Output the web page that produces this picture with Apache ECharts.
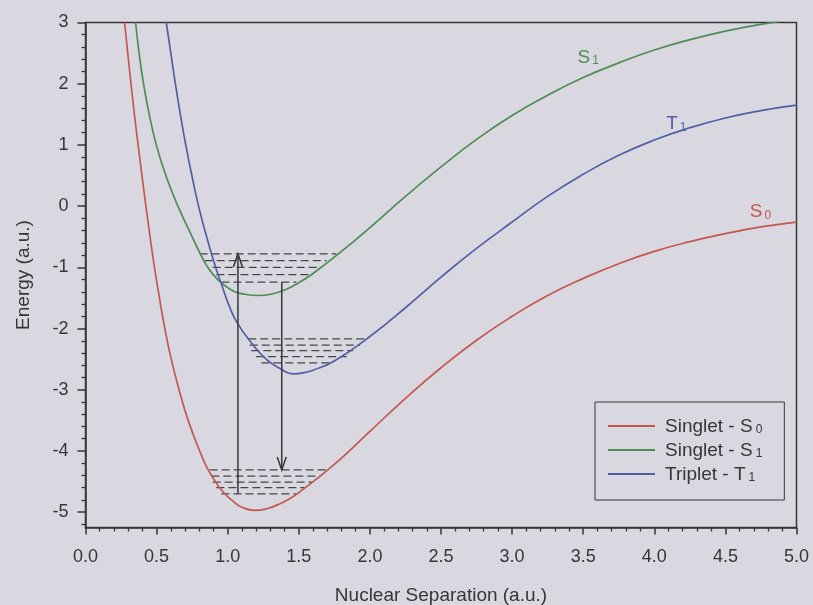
<!DOCTYPE html>
<html>
<head>
<meta charset="utf-8">
<script src="https://cdn.jsdelivr.net/npm/echarts@6/dist/echarts.min.js"></script>
<style>
  html, body { margin: 0; padding: 0; background: #d9d8e0; }
  #chart { width: 813px; height: 605px; }
</style>
</head>
<body>
<div id="chart"></div>
<script>
// Potential energy curves: [nuclear separation, energy] in atomic units
const groundS0 = [
  [0.275, 3.0], [0.297, 2.5], [0.32, 2.0], [0.344, 1.5], [0.37, 1.0],
  [0.397, 0.5], [0.425, 0.0], [0.454, -0.5], [0.485, -1.0], [0.52, -1.5],
  [0.558, -2.0], [0.603, -2.5], [0.658, -3.0], [0.722, -3.5], [0.803, -4.0],
  [0.85, -4.25], [0.897, -4.44], [0.96, -4.65], [1.037, -4.82], [1.1, -4.92],
  [1.19, -4.97], [1.28, -4.94], [1.35, -4.88], [1.42, -4.80], [1.5, -4.68],
  [1.75, -4.22], [2.0, -3.68], [2.25, -3.14], [2.5, -2.64], [2.75, -2.19],
  [3.0, -1.80], [3.25, -1.46], [3.5, -1.18], [3.75, -0.94], [4.0, -0.74],
  [4.25, -0.58], [4.5, -0.45], [4.75, -0.34], [5.0, -0.26]
];
const singletS1 = [
  [0.352, 3.0], [0.377, 2.5], [0.408, 2.0], [0.448, 1.5], [0.498, 1.0],
  [0.565, 0.5], [0.65, 0.0], [0.76, -0.55], [0.81, -0.79], [0.86, -1.0],
  [0.93, -1.2], [1.02, -1.36], [1.12, -1.44], [1.22, -1.46], [1.3, -1.44],
  [1.4, -1.37], [1.5, -1.25], [1.6, -1.10], [1.8, -0.74], [2.0, -0.35],
  [2.25, 0.16], [2.5, 0.64], [2.75, 1.09], [3.0, 1.48], [3.25, 1.81],
  [3.5, 2.10], [3.75, 2.34], [4.0, 2.55], [4.25, 2.72], [4.5, 2.86],
  [4.75, 2.97], [5.0, 3.06]
];
const tripletT1 = [
  [0.568, 3.0], [0.60, 2.5], [0.632, 2.0], [0.667, 1.5], [0.705, 1.0],
  [0.748, 0.5], [0.795, 0.0], [0.852, -0.5], [0.915, -1.0], [0.96, -1.3],
  [1.014, -1.65], [1.065, -1.9], [1.155, -2.2], [1.27, -2.5], [1.38, -2.67],
  [1.46, -2.74], [1.53, -2.725], [1.6, -2.68], [1.75, -2.53], [2.0, -2.13],
  [2.25, -1.66], [2.5, -1.16], [2.75, -0.69], [3.0, -0.26], [3.25, 0.16],
  [3.5, 0.52], [3.75, 0.83], [4.0, 1.08], [4.25, 1.28], [4.5, 1.44],
  [4.75, 1.56], [5.0, 1.65]
];

// Vibrational levels: [left x, right x, energy]
const levelsS0 = [[0.873, 1.69, -4.31], [0.885, 1.65, -4.41], [0.894, 1.60, -4.51], [0.92, 1.54, -4.60], [0.956, 1.48, -4.70]];
const levelsS1 = [[0.803, 1.765, -0.78], [0.838, 1.695, -0.89], [0.894, 1.648, -1.00], [0.92, 1.599, -1.12], [0.956, 1.483, -1.24]];
const levelsT1 = [[1.144, 1.977, -2.17], [1.155, 1.93, -2.27], [1.166, 1.88, -2.36], [1.2, 1.836, -2.46], [1.236, 1.73, -2.56]];

// Transitions: [x, energy from, energy to] (absorption up, emission down)
const transitions = [[1.072, -4.70, -0.78], [1.38, -1.24, -4.31]];

// Legend names (main text + subscript) and curve tag positions
const stateNames = ['Singlet - S', 'Singlet - S', 'Triplet - T'];
const stateSubs = ['0', '1', '1'];
const tagLetters = ['S', 'S', 'T'];
const tagPositions = [[4.746, -0.07], [3.535, 2.45], [4.155, 1.37]];

// Axis ticks
const xMin = 0, xMax = 5, xStep = 0.5;
const yMin = -5.25, yMax = 3;
const yMajorTicks = [-5, -4, -3, -2, -1, 0, 1, 2, 3];

const yMinorTicks = [-5.2];
for (let i = 0; i < yMajorTicks.length - 1; i++) {
  for (let k = 1; k < 5; k++) yMinorTicks.push(+(yMajorTicks[i] + k * 0.2).toFixed(2));
}

const FONT = '"Liberation Sans", Arial, sans-serif';
const INK = '#363636';
const COLORS = ['#c4574f', '#4f8c55', '#505fa6'];
const curves = [groundS0, singletS1, tripletT1];
const seriesKeys = stateNames.map((n, i) => n + stateSubs[i]);

const chart = echarts.init(document.getElementById('chart'), null, { renderer: 'canvas' });

const lineSeries = curves.map((data, i) => ({
  type: 'line',
  name: seriesKeys[i],
  data: data,
  smooth: 0.5,
  symbol: 'none',
  clip: true,
  z: 3,
  lineStyle: { color: COLORS[i], width: 1.7 },
  itemStyle: { color: COLORS[i] },
  markPoint: {
    symbol: 'circle',
    symbolSize: 1,
    itemStyle: { color: 'transparent' },
    label: {
      show: true,
      position: 'inside',
      formatter: '{m|' + tagLetters[i] + '}{s|' + stateSubs[i] + '}',
      rich: {
        m: { fontSize: 19, color: COLORS[i], fontFamily: FONT, verticalAlign: 'bottom', lineHeight: 22 },
        s: { fontSize: 12, color: COLORS[i], fontFamily: FONT, verticalAlign: 'bottom', lineHeight: 22, padding: [0, 0, 0, 2] }
      }
    },
    data: [{ coord: tagPositions[i] }]
  }
}));

function levelSeries(data) {
  return {
    type: 'custom',
    coordinateSystem: 'cartesian2d',
    data: data,
    encode: { x: [0, 1], y: 2 },
    silent: true,
    z: 2,
    renderItem: function (params, api) {
      const y = api.value(2);
      const p1 = api.coord([api.value(0), y]);
      const p2 = api.coord([api.value(1), y]);
      return {
        type: 'line',
        shape: { x1: p1[0], y1: p1[1], x2: p2[0], y2: p2[1] },
        style: { stroke: '#474747', lineWidth: 1.3, lineDash: [8, 4] }
      };
    }
  };
}

const arrowSeries = {
  type: 'custom',
  coordinateSystem: 'cartesian2d',
  data: transitions,
  encode: { x: 0, y: [1, 2] },
  silent: true,
  z: 4,
  renderItem: function (params, api) {
    const x = api.value(0);
    const a = api.coord([x, api.value(1)]);
    const b = api.coord([x, api.value(2)]);
    const dir = b[1] > a[1] ? 1 : -1;
    const L = 13, W = 4.5;
    return {
      type: 'group',
      children: [
        { type: 'line', shape: { x1: a[0], y1: a[1], x2: b[0], y2: b[1] },
          style: { stroke: INK, lineWidth: 1.5 } },
        { type: 'polyline',
          shape: { points: [[b[0] - W, b[1] - dir * L], [b[0], b[1]], [b[0] + W, b[1] - dir * L]] },
          style: { stroke: INK, lineWidth: 1.5, fill: 'none' } }
      ]
    };
  }
};

const option = {
  backgroundColor: '#d9d8e0',
  animation: false,
  grid: {
    left: 85.5, top: 22.5, right: 16.5, bottom: 77.5,
    outerBoundsMode: 'none',
    containLabel: false,
    show: true, borderColor: INK, borderWidth: 1.5, backgroundColor: 'transparent'
  },
  legend: {
    data: seriesKeys,
    orient: 'vertical',
    left: 595, top: 402,
    padding: [15, 22, 16, 13],
    itemGap: 5,
    icon: 'rect',
    itemWidth: 47,
    itemHeight: 2,
    borderColor: INK,
    borderWidth: 1,
    borderRadius: 0,
    backgroundColor: 'transparent',
    selectedMode: false,
    formatter: function (name) {
      const i = seriesKeys.indexOf(name);
      return '{m|' + stateNames[i] + '}{s|' + stateSubs[i] + '}';
    },
    textStyle: {
      color: INK, fontFamily: FONT, fontSize: 19,
      rich: {
        m: { fontSize: 19, color: INK, fontFamily: FONT, verticalAlign: 'bottom', lineHeight: 20, padding: [0, 0, 0, 5] },
        s: { fontSize: 12, color: INK, fontFamily: FONT, verticalAlign: 'bottom', lineHeight: 20, padding: [0, 0, 0, 3] }
      }
    }
  },
  xAxis: {
    type: 'value', min: xMin, max: xMax, interval: xStep,
    name: 'Nuclear Separation (a.u.)',
    nameLocation: 'middle', nameGap: 59,
    nameTextStyle: { fontSize: 19, color: INK, fontFamily: FONT },
    axisLine: { show: true, onZero: false, lineStyle: { color: INK, width: 1.5 } },
    axisTick: { show: true, inside: false, length: 7, lineStyle: { color: INK, width: 1.5 } },
    minorTick: { show: true, splitNumber: 5, length: 4, lineStyle: { color: INK, width: 1.3 } },
    axisLabel: { margin: 21, fontSize: 18, color: INK, fontFamily: FONT, formatter: v => v.toFixed(1) },
    splitLine: { show: false },
    minorSplitLine: { show: false }
  },
  yAxis: [
    {
      type: 'value', min: yMin, max: yMax, position: 'left',
      name: 'Energy (a.u.)',
      nameLocation: 'middle', nameGap: 52, nameRotate: 90,
      nameTextStyle: { fontSize: 19, color: INK, fontFamily: FONT },
      axisLine: { show: true, onZero: false, lineStyle: { color: INK, width: 1.5 } },
      axisTick: { show: true, inside: false, length: 8, customValues: yMajorTicks, lineStyle: { color: INK, width: 1.5 } },
      axisLabel: { margin: 17, fontSize: 18, color: INK, fontFamily: FONT, customValues: yMajorTicks },
      splitLine: { show: false }
    },
    {
      type: 'value', min: yMin, max: yMax, position: 'left',
      axisLine: { show: false },
      axisTick: { show: true, inside: false, length: 4, customValues: yMinorTicks, lineStyle: { color: INK, width: 1.3 } },
      axisLabel: { show: false },
      splitLine: { show: false }
    }
  ],
  series: [
    ...lineSeries,
    levelSeries(levelsS0),
    levelSeries(levelsS1),
    levelSeries(levelsT1),
    arrowSeries
  ]
};

chart.setOption(option);
</script>
</body>
</html>
